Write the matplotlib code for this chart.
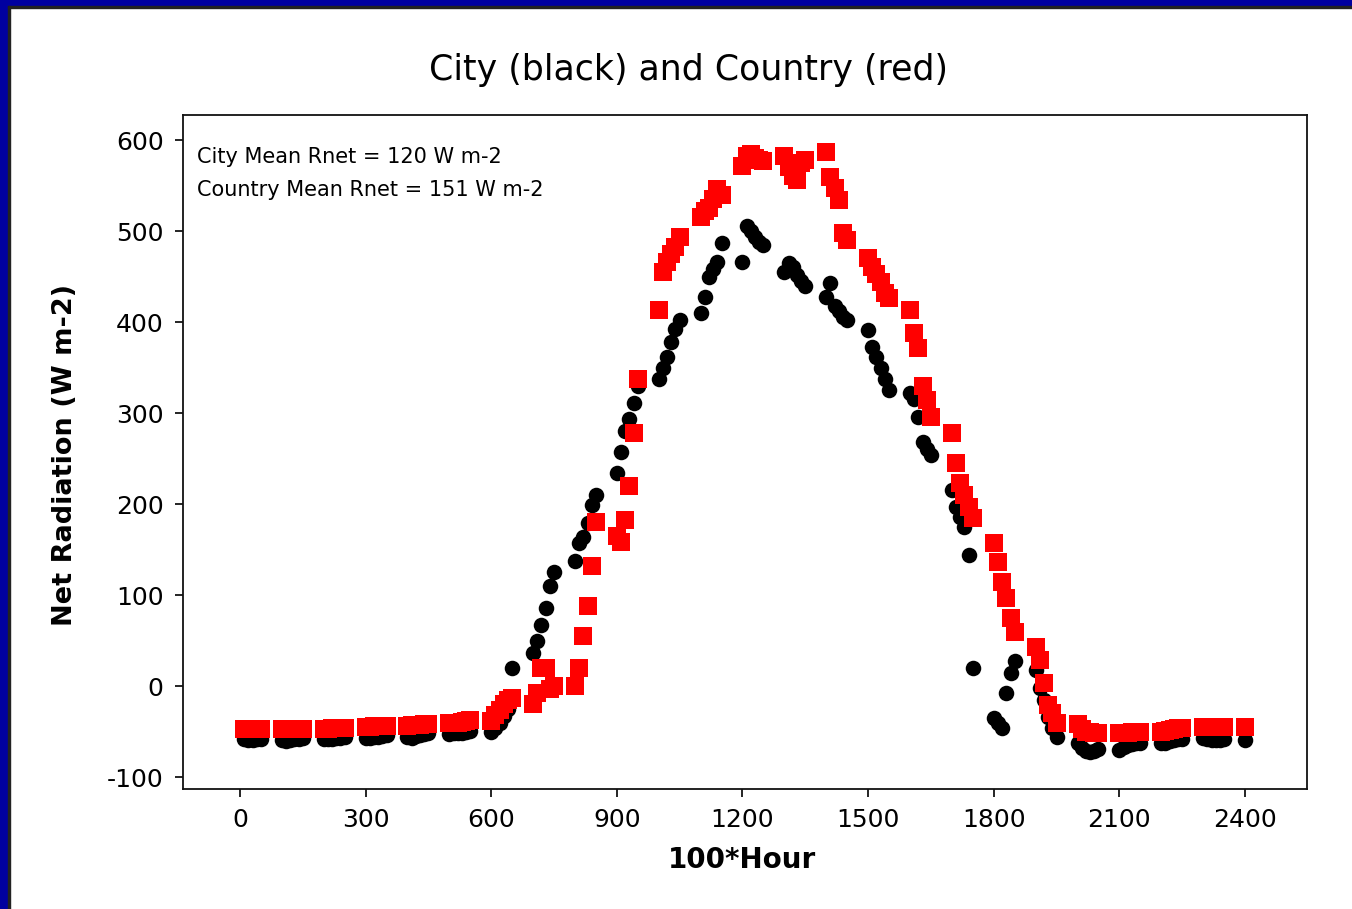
import matplotlib
matplotlib.use("Agg")
import matplotlib.pyplot as plt
from matplotlib.patches import Rectangle

plt.rcParams["axes.unicode_minus"] = False

# 10-minute readings, clock time written as 100*hour + minute (00:10 .. 24:00)
hours = list(range(24))
minutes = [0, 10, 20, 30, 40, 50]
clock = [100 * h + m for h in hours for m in minutes][1:] + [2400]

# net radiation, W m-2, one row per hour
city = [
    -58, -59, -59, -58, -58,
    -59, -60, -59, -58, -58, -57,
    -58, -58, -58, -57, -57, -56,
    -57, -57, -56, -56, -55, -54,
    -56, -57, -55, -54, -53, -52,
    -53, -52, -52, -51, -50, -49,
    -50, -46, -40, -33, -25, 20,
    36, 50, 67, 86, 110, 125,
    138, 157, 164, 179, 199, 210,
    234, 257, 280, 293, 311, 330,
    338, 350, 362, 378, 392, 402,
    410, 428, 450, 458, 466, 487,
    466, 506, 500, 494, 488, 485,
    455, 465, 460, 452, 445, 440,
    428, 443, 418, 412, 406, 402,
    391, 373, 362, 349, 338, 325,
    322, 316, 296, 268, 260, 254,
    215, 197, 186, 175, 144, 20,
    -35, -40, -46, -8, 14, 28,
    18, -2, -15, -34, -46, -56,
    -62, -68, -71, -72, -71, -69,
    -70, -67, -65, -64, -63, -62,
    -63, -62, -60, -59, -58, -58,
    -57, -58, -59, -59, -59, -58,
    -59,
]

country = [
    -47, -47, -47, -47, -47,
    -47, -47, -47, -47, -47, -47,
    -47, -47, -46, -46, -46, -46,
    -45, -45, -44, -44, -44, -44,
    -44, -43, -43, -43, -42, -42,
    -41, -40, -40, -39, -38, -37,
    -38, -32, -26, -20, -15, -13,
    -20, -8, 20, 20, -3, 0,
    0, 20, 55, 88, 132, 180,
    165, 158, 182, 220, 278, 338,
    413, 455, 466, 475, 482, 494,
    515, 522, 525, 535, 546, 540,
    572, 583, 585, 580, 578, 577,
    583, 570, 560, 556, 575, 578,
    587, 559, 547, 534, 498, 490,
    470, 461, 453, 444, 432, 426,
    413, 388, 371, 330, 314, 296,
    278, 245, 223, 210, 197, 185,
    157, 136, 114, 97, 75, 59,
    43, 29, 3, -21, -30, -41,
    -42, -47, -50, -50, -51, -51,
    -51, -51, -51, -50, -50, -50,
    -50, -49, -48, -47, -46, -46,
    -45, -45, -45, -45, -45, -45,
    -45,
]

x_ticks = [0, 300, 600, 900, 1200, 1500, 1800, 2100, 2400]
y_ticks = [-100, 0, 100, 200, 300, 400, 500, 600]
notes = ["City Mean Rnet = 120 W m-2", "Country Mean Rnet = 151 W m-2"]

W, H = 1352, 909
fig = plt.figure(figsize=(W / 100, H / 100), dpi=100)
fig.patch.set_facecolor("white")

ax = fig.add_axes([183 / W, 1 - 789 / H, (1307 - 183) / W, (789 - 115) / H])
ax.scatter(clock, city, s=125, marker="o", color="black", linewidths=0, zorder=2)
ax.scatter(clock, country, s=150, marker="s", color="#ff0000", linewidths=0, zorder=3)

ax.set_xlim(-136, 2548)
ax.set_ylim(-113, 627.5)
ax.set_xticks(x_ticks)
ax.set_yticks(y_ticks)
ax.tick_params(direction="out", length=6, width=1.2, labelsize=18, pad=8,
               top=False, right=False)
for sp in ax.spines.values():
    sp.set_linewidth(1.3)
    sp.set_color("#111111")

ax.text(0.0125, 0.9377, notes[0], transform=ax.transAxes, fontsize=15, va="center")
ax.text(0.0125, 0.8887, notes[1], transform=ax.transAxes, fontsize=15, va="center")

fig.text(688 / W, 1 - 70 / H, "City (black) and Country (red)", ha="center",
         va="center", fontsize=25)
fig.text(742 / W, 1 - 860 / H, "100*Hour", ha="center", va="center",
         fontsize=20, fontweight="bold")
fig.text(65 / W, 1 - 455 / H, "Net Radiation (W m-2)", ha="center", va="center",
         rotation=90, fontsize=19.5, fontweight="bold")

# slide frame: blue band along the top and left edge with a thin dark rule inside
blue = "#0000a0"
fig.patches.append(Rectangle((0, 1 - 6 / H), 1, 6 / H, transform=fig.transFigure,
                             color=blue, zorder=5))
fig.patches.append(Rectangle((0, 0), 8 / W, 1, transform=fig.transFigure,
                             color=blue, zorder=5))
fig.patches.append(Rectangle((8 / W, 0), 1.5 / W, 1 - 6 / H, transform=fig.transFigure,
                             color="#222222", zorder=5))
fig.patches.append(Rectangle((8 / W, 1 - 7.5 / H), 1, 1.5 / H, transform=fig.transFigure,
                             color="#222222", zorder=5))

fig.savefig("out.png", dpi=100)
